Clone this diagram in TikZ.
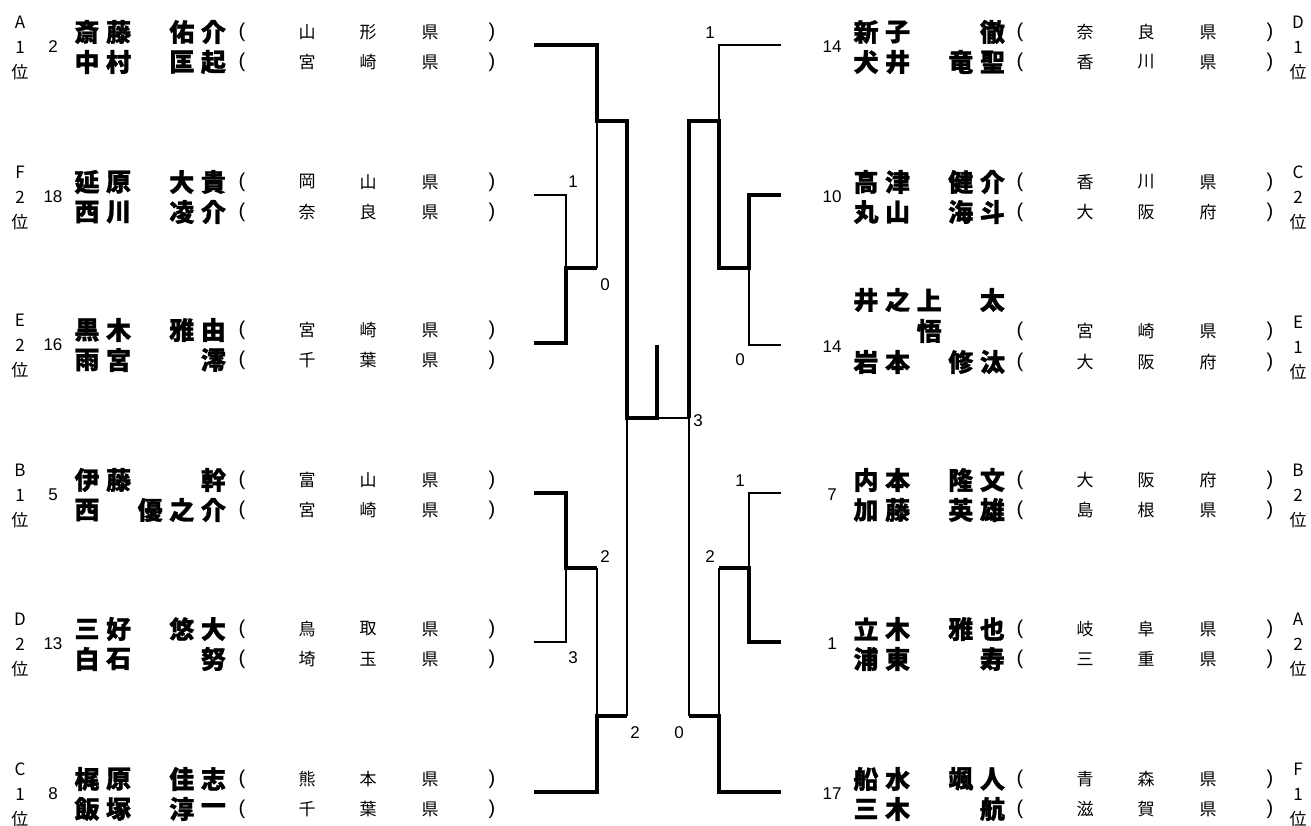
\documentclass[tikz,border=0pt]{standalone}
\usepackage{fontspec}
\setmainfont{Liberation Sans}
\newfontfamily\jp{Noto Sans CJK JP}[BoldFeatures={FakeBold=1.2}]
\tikzset{
  nmtxt/.style={inner sep=0pt, font=\jp\bfseries\fontsize{25}{25}\selectfont},
  pftxt/.style={inner sep=0pt, font=\jp\fontsize{17}{17}\selectfont},
  partxt/.style={inner sep=0pt, font=\fontsize{20}{20}\selectfont},
  lbtxt/.style={inner sep=0pt, font=\jp\fontsize{17}{17}\selectfont},
  sdtxt/.style={inner sep=0pt, font=\fontsize{17}{17}\selectfont},
  sctxt/.style={inner sep=0pt, font=\fontsize{17}{17}\selectfont},
  win/.style={line width=4pt, line join=miter},
  lose/.style={line width=1.2pt}
}
\newcommand\pitch{31.6}
% group label: id, x, line y, letter, number
\newcommand\grp[5]{%
  \node[lbtxt] (#1-l) at (#2,#3-23) {#4};
  \node[lbtxt] (#1-n) at (#2,#3+2) {#5};
  \node[lbtxt] (#1-i) at (#2,#3+27) {位};}
% name row: id, x0, y, five slots
\newcommand\nm[8]{%
  \node[nmtxt] (#1-1) at (#2,#3) {#4};
  \node[nmtxt] (#1-2) at ({#2+\pitch},#3) {#5};
  \node[nmtxt] (#1-3) at ({#2+2*\pitch},#3) {#6};
  \node[nmtxt] (#1-4) at ({#2+3*\pitch},#3) {#7};
  \node[nmtxt] (#1-5) at ({#2+4*\pitch},#3) {#8};}
% prefecture row: id, x of "(", y, three chars
\newcommand\pf[6]{%
  \node[partxt] (#1-o) at (#2,#3) {(};
  \node[pftxt] (#1-a) at (#2+65,#3) {#4};
  \node[pftxt] (#1-b) at (#2+126,#3) {#5};
  \node[pftxt] (#1-c) at (#2+188,#3) {#6};
  \node[partxt] (#1-e) at (#2+250,#3) {)};}
\begin{document}
\begin{tikzpicture}[x=1pt,y=-1pt]
\useasboundingbox[fill=white] (0,0) rectangle (1311,826);

% ---------------- left side texts ----------------
% A1 (line 45)
\grp{gL1}{20}{45}{A}{1}
\node[sdtxt] (sL1) at (53,47) {2};
\nm{nL1a}{87}{32}{斎}{藤}{}{佑}{介}
\pf{pL1a}{242}{32}{山}{形}{県}
\nm{nL1b}{87}{62}{中}{村}{}{匡}{起}
\pf{pL1b}{242}{62}{宮}{崎}{県}
% F2 (line 195)
\grp{gL2}{20}{195}{F}{2}
\node[sdtxt] (sL2) at (53,197) {18};
\nm{nL2a}{87}{182}{延}{原}{}{大}{貴}
\pf{pL2a}{242}{182}{岡}{山}{県}
\nm{nL2b}{87}{212}{西}{川}{}{凌}{介}
\pf{pL2b}{242}{212}{奈}{良}{県}
% E2 (line 343)
\grp{gL3}{20}{343}{E}{2}
\node[sdtxt] (sL3) at (53,345) {16};
\nm{nL3a}{87}{330}{黒}{木}{}{雅}{由}
\pf{pL3a}{242}{330}{宮}{崎}{県}
\nm{nL3b}{87}{360}{雨}{宮}{}{}{澪}
\pf{pL3b}{242}{360}{千}{葉}{県}
% B1 (line 493)
\grp{gL4}{20}{493}{B}{1}
\node[sdtxt] (sL4) at (53,495) {5};
\nm{nL4a}{87}{480}{伊}{藤}{}{}{幹}
\pf{pL4a}{242}{480}{富}{山}{県}
\nm{nL4b}{87}{510}{西}{}{優}{之}{介}
\pf{pL4b}{242}{510}{宮}{崎}{県}
% D2 (line 642)
\grp{gL5}{20}{642}{D}{2}
\node[sdtxt] (sL5) at (53,644) {13};
\nm{nL5a}{87}{629}{三}{好}{}{悠}{大}
\pf{pL5a}{242}{629}{鳥}{取}{県}
\nm{nL5b}{87}{659}{白}{石}{}{}{努}
\pf{pL5b}{242}{659}{埼}{玉}{県}
% C1 (line 792)
\grp{gL6}{20}{792}{C}{1}
\node[sdtxt] (sL6) at (53,794) {8};
\nm{nL6a}{87}{779}{梶}{原}{}{佳}{志}
\pf{pL6a}{242}{779}{熊}{本}{県}
\nm{nL6b}{87}{809}{飯}{塚}{}{淳}{一}
\pf{pL6b}{242}{809}{千}{葉}{県}

% ---------------- right side texts ----------------
% D1 (line 45)
\grp{gR1}{1298}{45}{D}{1}
\node[sdtxt] (sR1) at (832,47) {14};
\nm{nR1a}{866}{32}{新}{子}{}{}{徹}
\pf{pR1a}{1020}{32}{奈}{良}{県}
\nm{nR1b}{866}{62}{犬}{井}{}{竜}{聖}
\pf{pR1b}{1020}{62}{香}{川}{県}
% C2 (line 195)
\grp{gR2}{1298}{195}{C}{2}
\node[sdtxt] (sR2) at (832,197) {10};
\nm{nR2a}{866}{182}{高}{津}{}{健}{介}
\pf{pR2a}{1020}{182}{香}{川}{県}
\nm{nR2b}{866}{212}{丸}{山}{}{海}{斗}
\pf{pR2b}{1020}{212}{大}{阪}{府}
% E1 (line 345)
\grp{gR3}{1298}{345}{E}{1}
\node[sdtxt] (sR3) at (832,347) {14};
\nm{nR3a}{866}{300}{井}{之}{上}{}{太}
\nm{nR3c}{866}{331}{}{}{悟}{}{}
\pf{pR3a}{1020}{331}{宮}{崎}{県}
\nm{nR3b}{866}{362}{岩}{本}{}{修}{汰}
\pf{pR3b}{1020}{362}{大}{阪}{府}
% B2 (line 493)
\grp{gR4}{1298}{493}{B}{2}
\node[sdtxt] (sR4) at (832,495) {7};
\nm{nR4a}{866}{480}{内}{本}{}{隆}{文}
\pf{pR4a}{1020}{480}{大}{阪}{府}
\nm{nR4b}{866}{510}{加}{藤}{}{英}{雄}
\pf{pR4b}{1020}{510}{島}{根}{県}
% A2 (line 642)
\grp{gR5}{1298}{642}{A}{2}
\node[sdtxt] (sR5) at (832,644) {1};
\nm{nR5a}{866}{629}{立}{木}{}{雅}{也}
\pf{pR5a}{1020}{629}{岐}{阜}{県}
\nm{nR5b}{866}{659}{浦}{東}{}{}{寿}
\pf{pR5b}{1020}{659}{三}{重}{県}
% F1 (line 792)
\grp{gR6}{1298}{792}{F}{1}
\node[sdtxt] (sR6) at (832,794) {17};
\nm{nR6a}{866}{779}{船}{水}{}{颯}{人}
\pf{pR6a}{1020}{779}{青}{森}{県}
\nm{nR6b}{866}{809}{三}{木}{}{}{航}
\pf{pR6b}{1020}{809}{滋}{賀}{県}

% ---------------- bracket coordinates ----------------
\coordinate (L1) at (534,45);  \coordinate (L2) at (534,195);
\coordinate (L3) at (534,343); \coordinate (L4) at (534,493);
\coordinate (L5) at (534,642); \coordinate (L6) at (534,792);
\coordinate (R1) at (781,45);  \coordinate (R2) at (781,195);
\coordinate (R3) at (781,345); \coordinate (R4) at (781,493);
\coordinate (R5) at (781,642); \coordinate (R6) at (781,792);
\coordinate (LQ1) at (566,268); \coordinate (LS1) at (597,121);
\coordinate (LQ2) at (566,568); \coordinate (LS2) at (597,716);
\coordinate (RQ1) at (749,268); \coordinate (RS1) at (719,121);
\coordinate (RQ2) at (749,568); \coordinate (RS2) at (719,716);
\coordinate (LF) at (627,418); \coordinate (RF) at (689,418);
\coordinate (CH) at (657,418); \coordinate (CT) at (657,345);

% left top
\draw[win] (L1) -| (LS1) -- (LS1 -| LF) -- (LF) -- (CH) -- (CT);
\draw[lose] (L2) -| (LQ1);
\draw[win] (L3) -| (LQ1) -- (LQ1 -| LS1);
\draw[lose] (LQ1 -| LS1) -- (LS1);
% left bottom
\draw[win] (L4) -| (LQ2) -- (LQ2 -| LS2);
\draw[lose] (L5) -| (LQ2);
\draw[lose] (LQ2 -| LS2) -- (LS2);
\draw[win] (L6) -| (LS2) -- (LS2 -| LF);
\draw[lose] (LS2 -| LF) -- (LF);
% right top
\draw[lose] (R1) -| (RS1);
\draw[win] (R2) -| (RQ1) -- (RQ1 -| RS1) -- (RS1) -- (RS1 -| RF) -- (RF);
\draw[lose] (R3) -| (RQ1);
\draw[lose] (RF) -- (CH);
% right bottom
\draw[lose] (R4) -| (RQ2);
\draw[win] (R5) -| (RQ2) -- (RQ2 -| RS2);
\draw[lose] (RQ2 -| RS2) -- (RS2);
\draw[win] (R6) -| (RS2) -- (RS2 -| RF);
\draw[lose] (RS2 -| RF) -- (RF);

% ---------------- scores ----------------
\node[sctxt] (s1) at (573,182) {1};
\node[sctxt] (s2) at (605,285) {0};
\node[sctxt] (s3) at (605,557) {2};
\node[sctxt] (s4) at (573,658) {3};
\node[sctxt] (s5) at (635,733) {2};
\node[sctxt] (s6) at (679,733) {0};
\node[sctxt] (s7) at (698,421) {3};
\node[sctxt] (s8) at (710,33) {1};
\node[sctxt] (s9) at (740,360) {0};
\node[sctxt] (s10) at (740,481) {1};
\node[sctxt] (s11) at (710,557) {2};
\end{tikzpicture}
\end{document}
